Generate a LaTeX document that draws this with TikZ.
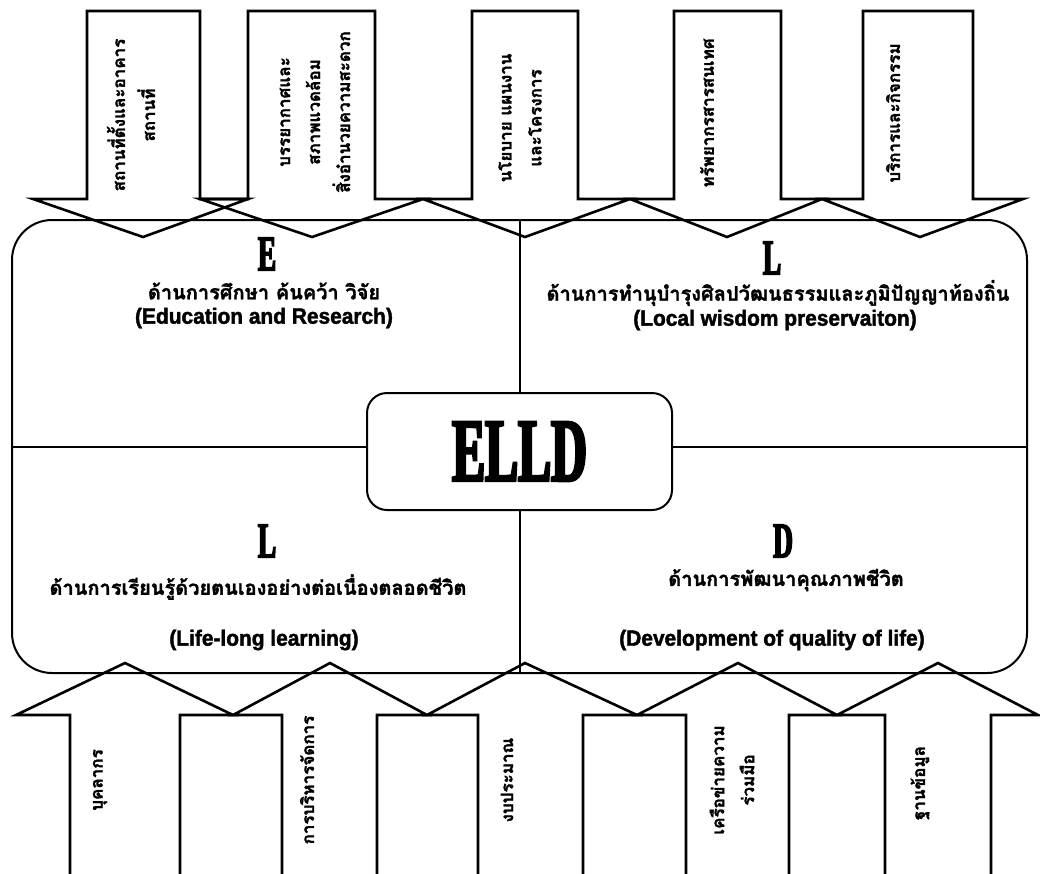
\documentclass[tikz,border=0pt]{standalone}
\usepackage{fontspec}
\newfontfamily\thaifont[Script=Thai, FakeBold=1.6]{Loma}
\newfontfamily\headfont[FakeStretch=0.55, FakeBold=3]{Liberation Serif}
\newfontfamily\engfont[FakeStretch=0.95, FakeBold=1.8]{Liberation Sans}

\begin{document}
\begin{tikzpicture}[x=1pt, y=-1pt,
    frame/.style={draw, line width=2pt},
    blockarrow/.style={draw, line width=2.6pt, line join=miter},
    letter/.style={font=\headfont\bfseries\fontsize{50}{50}\selectfont},
    thailine/.style={font=\thaifont\bfseries\fontsize{20}{22}\selectfont},
    engline/.style={font=\engfont\bfseries\fontsize{22}{24}\selectfont},
    arrowtext/.style={rotate=90, align=center, font=\thaifont\bfseries\fontsize{17}{30}\selectfont}
]
    \useasboundingbox (0,0) rectangle (1040,873);

    % Board and dividers
    \node[frame, rounded corners=40pt, minimum width=1015pt, minimum height=453pt, inner sep=0pt] (board) at (519.5,446.5) {};
    \draw[frame] (board.north) -- (board.south);
    \draw[frame] (board.west) -- (board.east);

    % Arrows in (top)
    \foreach \bl/\br/\hl/\hr/\tip in {87/200/33/248/143, 248/375/200/423/312, 472/578/423/630/525, 674/781/630/822/727, 863/973/822/1023/920}
        \draw[blockarrow] (\bl,199) -- (\bl,11) -- (\br,11) -- (\br,199) -- (\hr,199) -- (\tip,237) -- (\hl,199) -- cycle;

    % Arrows in (bottom)
    \foreach \bl/\br/\hl/\hr/\tip in {70/180/16/233/125, 282/377/233/427/330, 478/583/427/637/525, 686/789/637/837/738, 885/991/837/1038/938}
        \draw[blockarrow] (\bl,880) -- (\bl,715) -- (\hl,715) -- (\tip,663) -- (\hr,715) -- (\br,715) -- (\br,880);

    % Centre
    \node[frame, fill=white, rounded corners=20pt, minimum width=305pt, minimum height=117pt,
          font=\headfont\bfseries\fontsize{90}{90}\selectfont] (core) at (519.5,451.5) {ELLD};

    % Quadrants
    \node[letter] (eduLetter) at (267,254) {E};
    \node[thailine] (eduThai) at (264,291) {ด้านการศึกษา ค้นคว้า วิจัย};
    \node[engline] (eduEng) at (264,318) {(Education and Research)};

    \node[letter] (locLetter) at (772,258) {L};
    \node[thailine] (locThai) at (778,293) {ด้านการทำนุบำรุงศิลปวัฒนธรรมและภูมิปัญญาท้องถิ่น};
    \node[engline] (locEng) at (775,320) {(Local wisdom preservaiton)};

    \node[letter] (lifeLetter) at (267,541) {L};
    \node[thailine] (lifeThai) at (258,587) {ด้านการเรียนรู้ด้วยตนเองอย่างต่อเนื่องตลอดชีวิต};
    \node[engline] (lifeEng) at (264,640) {(Life-long learning)};

    \node[letter] (devLetter) at (783,541) {D};
    \node[thailine] (devThai) at (786,580) {ด้านการพัฒนาคุณภาพชีวิต};
    \node[engline] (devEng) at (772,640) {(Development of quality of life)};

    % Arrow labels
    \node[arrowtext] (inSite) at (131,115) {สถานที่ตั้งและอาคาร\\สถานที่};
    \node[arrowtext] (inAmbience) at (315,112) {บรรยากาศและ\\สภาพแวดล้อม\\สิ่งอำนวยความสะดวก};
    \node[arrowtext] (inPolicy) at (520,118) {นโยบาย แผนงาน\\และโครงการ};
    \node[arrowtext] (inInfo) at (707,113) {ทรัพยากรสารสนเทศ};
    \node[arrowtext] (inService) at (893,113) {บริการและกิจกรรม};

    \node[arrowtext] (inStaff) at (100,780) {บุคลากร};
    \node[arrowtext] (inManage) at (307,780) {การบริหารจัดการ};
    \node[arrowtext] (inBudget) at (507,780) {งบประมาณ};
    \node[arrowtext] (inNetwork) at (732,780) {เครือข่ายความ\\ร่วมมือ};
    \node[arrowtext] (inData) at (920,783) {ฐานข้อมูล};
\end{tikzpicture}
\end{document}
